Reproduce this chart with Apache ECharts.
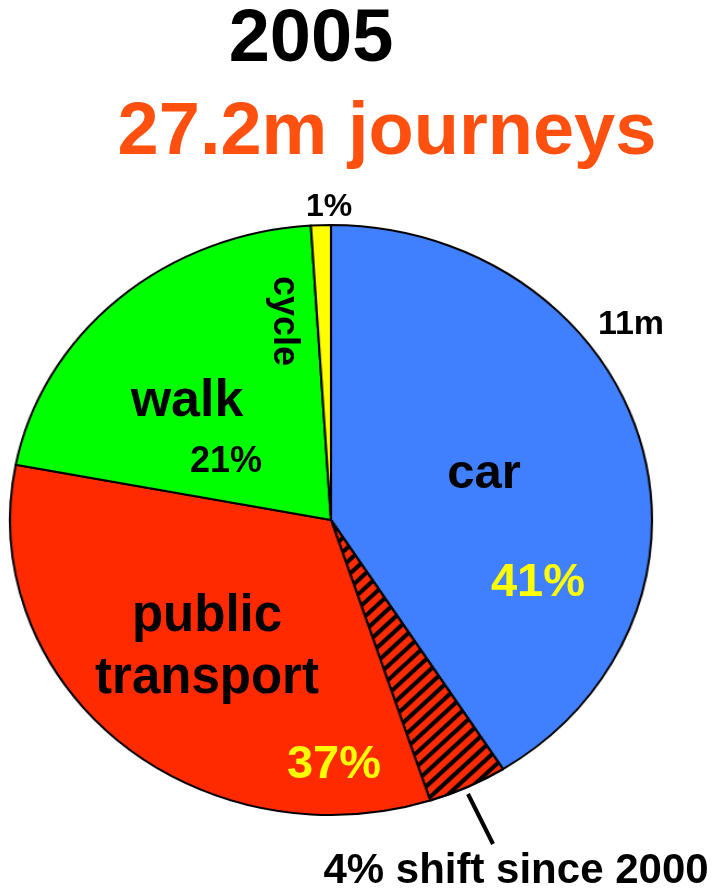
<!DOCTYPE html>
<html>
<head>
<meta charset="utf-8">
<script src="https://cdn.jsdelivr.net/npm/echarts@6/dist/echarts.min.js"></script>
<style>
  html, body { margin: 0; padding: 0; background: #fff; }
  #wrap { position: relative; width: 715px; height: 893px; overflow: hidden; }
  #pie, #text { position: absolute; left: 0; top: 0; width: 715px; height: 893px; }
  /* the pie in the picture is a bit wider than tall */
  #pie { transform-origin: 331px 520px; transform: scaleX(1.088); }
</style>
</head>
<body>
<div id="wrap">
  <div id="pie"></div>
  <div id="text"></div>
</div>
<script>
// data
var year = 2005;
var totalJourneys = 27.2; // million
var categories = ['car', 'shift since 2000', 'public transport', 'walk', 'cycle'];
var shares = [41, 4, 33, 21, 1];
var sliceColors = ['#4080ff', '#ff2a00', '#ff2a00', '#00ff00', '#ffff00'];

var FONT = '"Liberation Sans", Arial, Helvetica, sans-serif';

var pieData = categories.map(function (name, i) {
  var item = { name: name, value: shares[i], itemStyle: { color: sliceColors[i] } };
  if (name === 'shift since 2000') {
    item.itemStyle.decal = {
      symbol: 'rect',
      symbolSize: 1,
      color: '#000',
      dashArrayX: [1, 0],
      dashArrayY: [4, 6],
      rotation: -Math.PI / 4
    };
  }
  return item;
});

var pieChart = echarts.init(document.getElementById('pie'));
pieChart.setOption({
  animation: false,
  series: [{
    type: 'pie',
    center: [331, 520],
    radius: 295,
    startAngle: 90,
    clockwise: true,
    silent: true,
    label: { show: false },
    labelLine: { show: false },
    itemStyle: { borderColor: '#000', borderWidth: 2 },
    data: pieData
  }]
});

// labels
var carPct = shares[0];
var ptPct = shares[1] + shares[2];
var walkPct = shares[3];
var cyclePct = shares[4];
var carMillions = Math.round(totalJourneys * carPct / 100);

function txt(str, x, y, size, color, extra) {
  var el = {
    type: 'text',
    x: x,
    y: y,
    silent: true,
    style: {
      text: str,
      fill: color || '#000',
      font: 'bold ' + size + 'px ' + FONT,
      align: 'center',
      verticalAlign: 'middle'
    }
  };
  if (extra) {
    for (var k in extra) el[k] = extra[k];
  }
  return el;
}

var textChart = echarts.init(document.getElementById('text'));
textChart.setOption({
  animation: false,
  graphic: [
    txt(String(year), 311, 41, 74, '#000'),
    txt(totalJourneys + 'm journeys', 387, 134, 74, '#ff5010'),
    txt(cyclePct + '%', 329, 207, 32, '#000'),
    txt(carMillions + 'm', 631, 325, 34, '#000'),
    txt('cycle', 284, 321, 36, '#000', { rotation: -Math.PI / 2 }),
    txt('walk', 187, 402, 52, '#000'),
    txt(walkPct + '%', 226, 462, 36, '#000'),
    txt('car', 484, 474, 49, '#000'),
    txt(carPct + '%', 538, 583, 47, '#ffff00'),
    {
      type: 'text', x: 207, y: 648, silent: true,
      style: {
        text: 'public\ntransport', fill: '#000',
        font: 'bold 51px ' + FONT, lineHeight: 62,
        align: 'center', verticalAlign: 'middle'
      }
    },
    txt(ptPct + '%', 334, 765, 47, '#ffff00'),
    {
      type: 'line', silent: true,
      shape: { x1: 468, y1: 794, x2: 493, y2: 844 },
      style: { stroke: '#000', lineWidth: 4 }
    },
    txt(shares[1] + '% shift since 2000', 516, 871, 42, '#000')
  ]
});
</script>
</body>
</html>
